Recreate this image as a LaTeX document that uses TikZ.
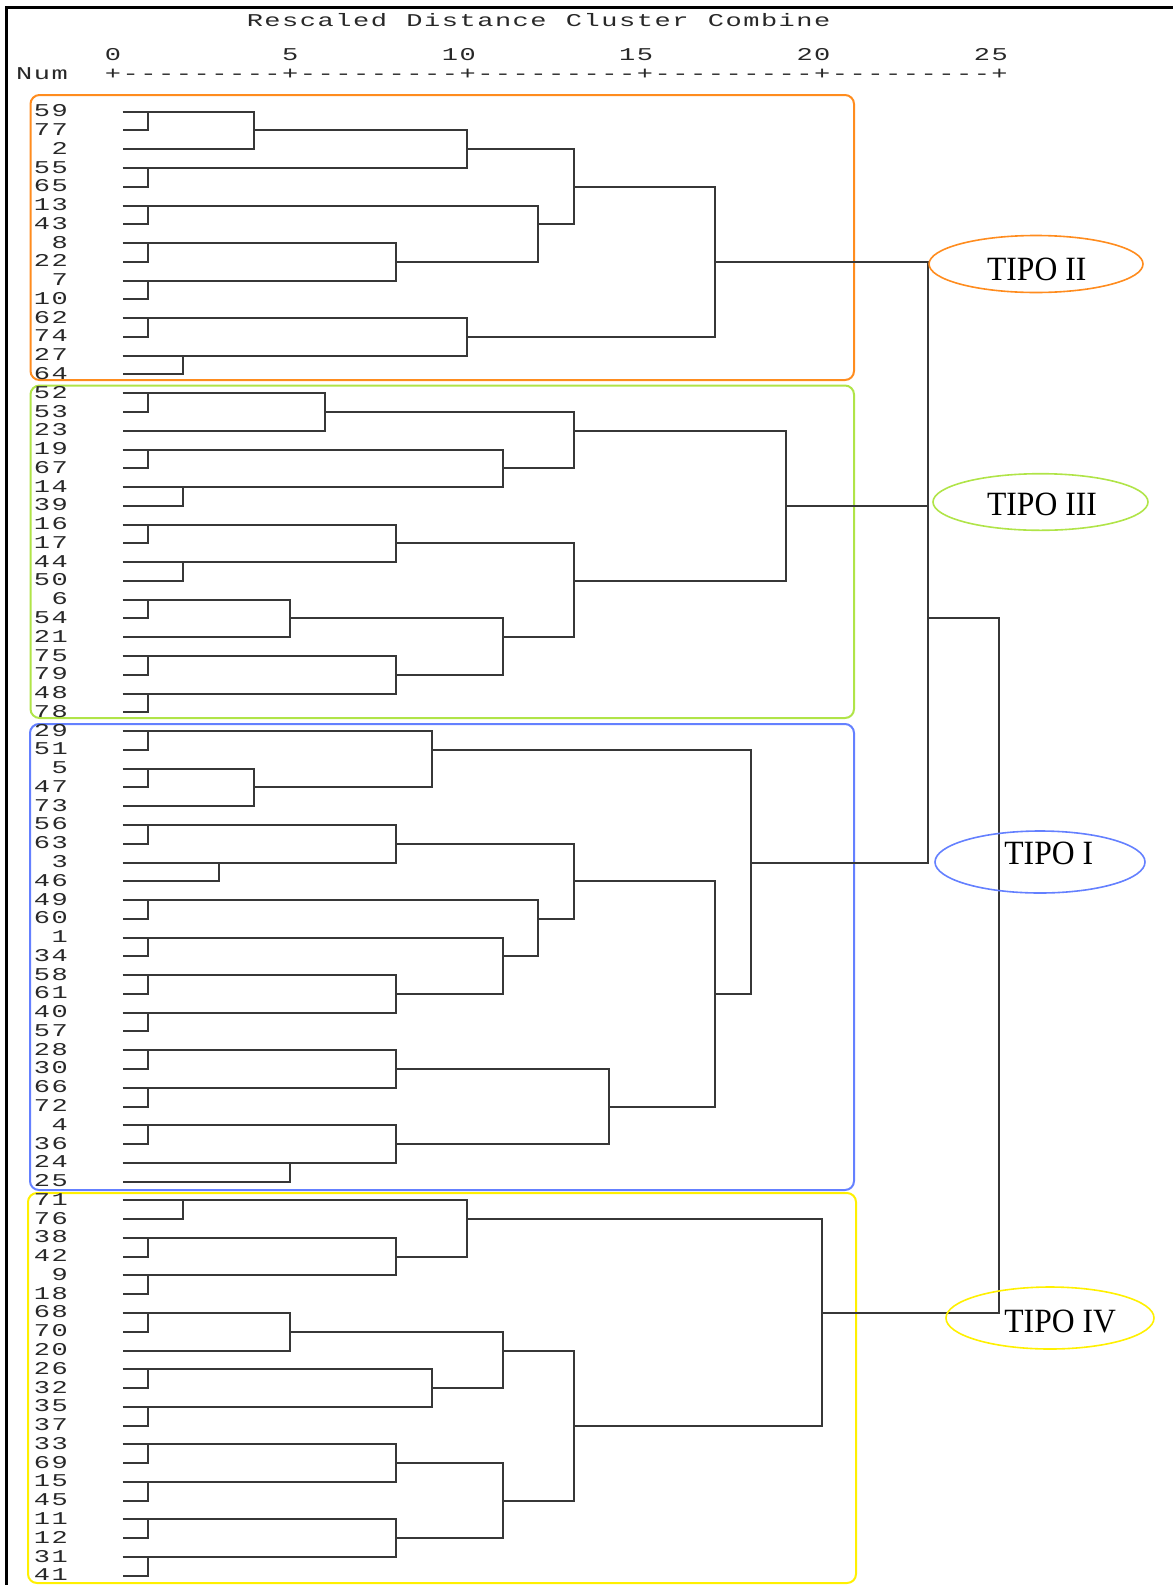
\documentclass[tikz,border=0pt]{standalone}
\usepackage{fontspec}
\usetikzlibrary{shapes.geometric}
\newfontfamily\spssfont{Liberation Mono}[FakeStretch=1.5]
\newfontfamily\tipofont{Liberation Serif}[FakeStretch=0.93]
\definecolor{orangeC}{RGB}{255,140,30}
\definecolor{greenC}{RGB}{176,228,72}
\definecolor{blueC}{RGB}{100,128,255}
\definecolor{yellowC}{RGB}{255,240,0}
\definecolor{dengray}{RGB}{55,55,55}
\definecolor{spssgray}{RGB}{40,40,40}
\makeatletter
\newcommand\mono[1]{\@tfor\mt@c:=#1\do{\makebox[8.8675pt][c]{\mt@c}}}
\makeatother
\newcommand\jn[5]{\coordinate (#1) at ({112.5+35.47*#2},{111.7+18.77*#3}); \draw[den] (#4) -| (#5 -| #1) -- (#5);}
\begin{document}
\begin{tikzpicture}[x=0.5pt,y=-0.5pt,
  spss/.style={inner sep=0pt, outer sep=0pt, text=spssgray, font=\spssfont\fontsize{9}{10}\selectfont},
  den/.style={draw=dengray, line width=1pt},
  grp/.style={line width=1pt, rounded corners=4.5pt},
  tipo/.style={ellipse, line width=0.8pt, inner sep=0pt},
  tipotext/.style={inner sep=0pt, font=\tipofont\fontsize{17}{20}\selectfont}]
\useasboundingbox (0,0) rectangle (1173,1585);
% frame
\draw[line width=1.5pt] (6.5,1585) -- (6.5,7) -- (1173,7);
% header
\node[spss, anchor=base west] (title) at (246,26.5) {\mono{Rescaled~Distance~Cluster~Combine}};
\node[spss, anchor=base east] (ax0) at (121.87,60.7) {\mono{0}};
\node[spss, anchor=base east] (ax5) at (299.2,60.7) {\mono{5}};
\node[spss, anchor=base east] (ax10) at (476.5,60.7) {\mono{10}};
\node[spss, anchor=base east] (ax15) at (653.9,60.7) {\mono{15}};
\node[spss, anchor=base east] (ax20) at (831.2,60.7) {\mono{20}};
\node[spss, anchor=base east] (ax25) at (1008.6,60.7) {\mono{25}};
\node[spss, anchor=base west] (num) at (15.46,79.5) {\mono{Num}};
\node[spss, anchor=base west] (ruler) at (104.13,79.5) {\mono{+---------+---------+---------+---------+---------+}};
% group boxes
\draw[grp, draw=orangeC] (30.5,95) rectangle (854,380);
\draw[grp, draw=greenC] (30.5,385.5) rectangle (854,718);
\draw[grp, draw=blueC] (30,724) rectangle (854,1190);
\draw[grp, draw=yellowC] (28,1193) rectangle (856,1583);
% leaves
\foreach \lab [count=\i from 0] in {59,77,2,55,65,13,43,8,22,7,10,62,74,27,64,
 52,53,23,19,67,14,39,16,17,44,50,6,54,21,75,79,48,78,
 29,51,5,47,73,56,63,3,46,49,60,1,34,58,61,40,57,28,30,66,72,4,36,24,25,
 71,76,38,42,9,18,68,70,20,26,32,35,37,33,69,15,45,11,12,31,41} {
  \pgfmathsetmacro\yy{111.7+18.77*\i}
  \node[spss, anchor=base east] (n\lab) at (68.66,\yy+5) {\expandafter\mono\expandafter{\lab}};
  \coordinate (c\lab) at (122.5,\yy);
}
% group II
\jn{jA}{1}{0}{c59}{c77}
\jn{jB}{4}{1}{jA}{c2}
\jn{jC}{1}{3}{c55}{c65}
\jn{jD}{10}{2}{jB}{jC}
\jn{jE}{1}{5}{c13}{c43}
\jn{jF}{1}{7}{c8}{c22}
\jn{jG}{1}{9}{c7}{c10}
\jn{jH}{8}{8}{jF}{jG}
\jn{jI}{12}{6}{jE}{jH}
\jn{jJ}{13}{4}{jD}{jI}
\jn{jK}{1}{11}{c62}{c74}
\jn{jL}{2}{13}{c27}{c64}
\jn{jM}{10}{12}{jK}{jL}
\jn{jN}{17}{8}{jJ}{jM}
% group III
\jn{ja}{1}{15}{c52}{c53}
\jn{jb}{6}{16}{ja}{c23}
\jn{jc}{1}{18}{c19}{c67}
\jn{jd}{2}{20}{c14}{c39}
\jn{je}{11}{19}{jc}{jd}
\jn{jf}{13}{17}{jb}{je}
\jn{jg}{1}{22}{c16}{c17}
\jn{jh}{2}{24}{c44}{c50}
\jn{ji}{8}{23}{jg}{jh}
\jn{jj}{1}{26}{c6}{c54}
\jn{jk}{5}{27}{jj}{c21}
\jn{jl}{1}{29}{c75}{c79}
\jn{jm}{1}{31}{c48}{c78}
\jn{jn}{8}{30}{jl}{jm}
\jn{jo}{11}{28}{jk}{jn}
\jn{jp}{13}{25}{ji}{jo}
\jn{jq}{19}{21}{jf}{jp}
% group I
\jn{jr}{1}{33}{c29}{c51}
\jn{js}{1}{35}{c5}{c47}
\jn{jt}{4}{36}{js}{c73}
\jn{ju}{9}{34}{jr}{jt}
\jn{jv}{1}{38}{c56}{c63}
\jn{jw}{3}{40}{c3}{c46}
\jn{jx}{8}{39}{jv}{jw}
\jn{jy}{1}{42}{c49}{c60}
\jn{jz}{1}{44}{c1}{c34}
\jn{jaa}{1}{46}{c58}{c61}
\jn{jab}{1}{48}{c40}{c57}
\jn{jac}{8}{47}{jaa}{jab}
\jn{jad}{11}{45}{jz}{jac}
\jn{jae}{12}{43}{jy}{jad}
\jn{jaf}{13}{41}{jx}{jae}
\jn{jag}{1}{50}{c28}{c30}
\jn{jah}{1}{52}{c66}{c72}
\jn{jai}{8}{51}{jag}{jah}
\jn{jaj}{1}{54}{c4}{c36}
\jn{jak}{5}{56}{c24}{c25}
\jn{jal}{8}{55}{jaj}{jak}
\jn{jam}{14}{53}{jai}{jal}
\jn{jan}{17}{47}{jaf}{jam}
\jn{jao}{18}{40}{ju}{jan}
% group IV
\jn{jap}{2}{58}{c71}{c76}
\jn{jaq}{1}{60}{c38}{c42}
\jn{jar}{1}{62}{c9}{c18}
\jn{jas}{8}{61}{jaq}{jar}
\jn{jat}{10}{59}{jap}{jas}
\jn{jau}{1}{64}{c68}{c70}
\jn{jav}{5}{65}{jau}{c20}
\jn{jaw}{1}{67}{c26}{c32}
\jn{jax}{1}{69}{c35}{c37}
\jn{jay}{9}{68}{jaw}{jax}
\jn{jaz}{11}{66}{jav}{jay}
\jn{jba}{1}{71}{c33}{c69}
\jn{jbb}{1}{73}{c15}{c45}
\jn{jbc}{8}{72}{jba}{jbb}
\jn{jbd}{1}{75}{c11}{c12}
\jn{jbe}{1}{77}{c31}{c41}
\jn{jbf}{8}{76}{jbd}{jbe}
\jn{jbg}{11}{74}{jbc}{jbf}
\jn{jbh}{13}{70}{jaz}{jbg}
\jn{jbi}{20}{64}{jat}{jbh}
% top level
\jn{jX}{23}{14}{jN}{jq}
\jn{jY}{23}{27}{jX}{jao}
\jn{jZ}{25}{45}{jY}{jbi}
% type labels
\node[tipo, draw=orangeC, minimum width=107pt, minimum height=28.5pt] (eII) at (1036,264) {};
\node[tipotext, anchor=base] (tII) at (1036.7,280) {TIPO II};
\node[tipo, draw=greenC, minimum width=107.5pt, minimum height=28.3pt] (eIII) at (1040.5,502) {};
\node[tipotext, anchor=base] (tIII) at (1042,515) {TIPO III};
\node[tipo, draw=blueC, minimum width=105pt, minimum height=31pt] (eI) at (1040,862) {};
\node[tipotext, anchor=base west] (tI) at (1004,864.5) {TIPO I};
\node[tipo, draw=yellowC, minimum width=104pt, minimum height=31pt] (eIV) at (1050,1318) {};
\node[tipotext, anchor=base west] (tIV) at (1004,1332) {TIPO IV};
\end{tikzpicture}
\end{document}
